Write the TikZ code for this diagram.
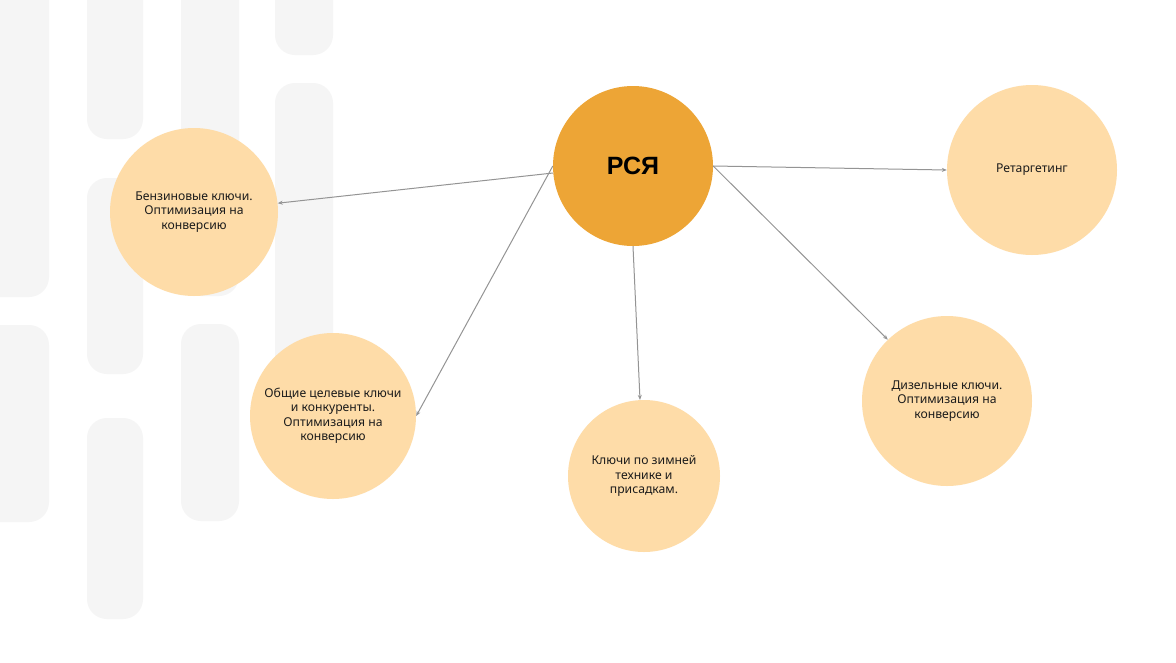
\documentclass[tikz,border=0pt]{standalone}
\usepackage{fontspec}
\setmainfont{Noto Sans}
\newfontfamily\hubfont{Liberation Sans}
\usetikzlibrary{arrows.meta}
\definecolor{barGrey}{HTML}{F5F5F5}
\definecolor{peach}{HTML}{FEDCA8}
\definecolor{amber}{HTML}{EDA536}
\definecolor{lineGrey}{HTML}{949494}
\definecolor{inkText}{HTML}{1C1C1C}

\begin{document}
\begin{tikzpicture}[x=1pt, y=-1pt,
    bar/.style={fill=barGrey, rounded corners=20pt},
    leaf/.style={circle, fill=peach, inner sep=0pt, minimum size=#1, align=center, text=inkText, font=\fontsize{12.2}{14.5}\selectfont},
    hub/.style={circle, fill=amber, inner sep=0pt, minimum size=160pt, font=\hubfont\fontsize{25}{30}\selectfont\bfseries},
    link/.style={draw=lineGrey, line width=1pt, -{Stealth[length=5pt, width=4pt]}}]
    \useasboundingbox[fill=white] (0,0) rectangle (1176,662);
    \fill[bar] (-30,-30) rectangle (49,297);
    \fill[bar] (-30,325) rectangle (49,522);
    \fill[bar] (87,-30) rectangle (143,139);
    \fill[bar] (87,178) rectangle (143,374);
    \fill[bar] (87,418) rectangle (143,619);
    \fill[bar] (181,-30) rectangle (239,296);
    \fill[bar] (181,324) rectangle (239,521);
    \fill[bar] (275,-30) rectangle (333,55);
    \fill[bar] (275,83) rectangle (333,400);
    \node[hub] (rsya) at (633,166) {РСЯ};
    \node[leaf=168pt] (benz) at (194,212) {Бензиновые ключи.\\Оптимизация на\\конверсию};
    \node[leaf=166pt] (obsh) at (333,416) {Общие целевые ключи\\и конкуренты.\\Оптимизация на\\конверсию};
    \node[leaf=152pt] (zimn) at (644,476) {Ключи по зимней\\технике и\\присадкам.};
    \node[leaf=170pt] (dizel) at (947,401) {Дизельные ключи.\\Оптимизация на\\конверсию};
    \node[leaf=170pt] (retarg) at (1032,170) {Ретаргетинг};
    \draw[link] (rsya.185) -- (benz.6);
    \draw[link] (rsya.west) -- (obsh.east);
    \draw[link] (rsya.south) -- (zimn.93);
    \draw[link] (rsya.east) -- (retarg.west);
    \draw[link] (rsya.east) -- (dizel.134);
\end{tikzpicture}
\end{document}
